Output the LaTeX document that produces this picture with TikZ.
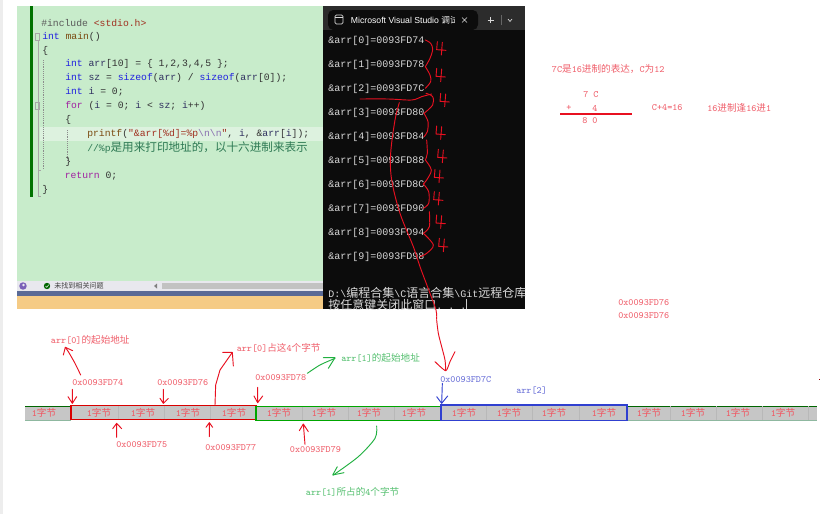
\documentclass[tikz,border=0pt]{standalone}
\usepackage{fontspec}
\setmainfont{Liberation Sans}
\setmonofont{Liberation Mono}
\newfontfamily\cjk{Noto Sans CJK SC}
\newfontfamily\lm{Latin Modern Mono}
\definecolor{bggreen}{HTML}{C8ECCB}
\definecolor{hlgreen}{HTML}{DDF2DF}
\definecolor{barblue}{HTML}{5A6A96}
\definecolor{barorange}{HTML}{F5CB85}
\definecolor{ckw}{HTML}{2020E0}
\definecolor{cstr}{HTML}{A03020}
\definecolor{cfn}{HTML}{7A4A10}
\definecolor{cvar}{HTML}{303060}
\definecolor{cpur}{HTML}{A020A0}
\definecolor{ccom}{HTML}{2F7A55}
\definecolor{cesc}{HTML}{8A70B0}
\definecolor{lred}{HTML}{F0606C}
\definecolor{lgreen}{HTML}{55C070}
\definecolor{lblue}{HTML}{6A70D8}
\definecolor{inkred}{HTML}{E81020}
\definecolor{inkgreen}{HTML}{20B040}
\definecolor{inkblue}{HTML}{3040D0}
\definecolor{termbg}{HTML}{0C0C0C}
\definecolor{titlebg}{HTML}{2C2C2C}
\definecolor{cellgrey}{HTML}{C6C6C6}
\definecolor{barline}{HTML}{8FB8A0}
\definecolor{statusbg}{HTML}{E8E8EE}
\definecolor{iconpurple}{HTML}{7A60B8}
\tikzset{
  codeline/.style={anchor=west,inner sep=0pt,font=\ttfamily\fontsize{7.3}{9}\selectfont,text=black!80},
  termline/.style={anchor=west,inner sep=0pt,font=\ttfamily\fontsize{7.5}{9}\selectfont,text=white!85!black},
  lab/.style={anchor=west,inner sep=0pt,font=\lm\fontsize{7.2}{9}\selectfont,text=lred},
  cell/.style={inner sep=0pt,font=\lm\fontsize{7.2}{9}\selectfont,text=lred!90!red},
  hand/.style={draw=inkred,line width=.7pt,line join=round,line cap=round},
  gink/.style={hand,draw=inkgreen},
  bink/.style={hand,draw=inkblue},
  zoomed/.style={x=.25pt,y=-.25pt},
}
\newcommand\kw[1]{\textcolor{ckw}{#1}}
\begin{document}
\begin{tikzpicture}[x=.75pt,y=-.75pt]
\useasboundingbox (0,0) rectangle (828,514);
\fill[white] (0,0) rectangle (828,514);
\fill[black!7] (0,0) rectangle (3,514);
% editor
\fill[bggreen] (17,6) rectangle (323,281);
\fill[hlgreen] (40,127) rectangle (323,141);
\fill[green!45!black] (30,6) rectangle (33,197);
\fill[statusbg] (17,281) rectangle (323,291);
\fill[barblue] (17,291) rectangle (323,296);
\fill[barorange] (17,296) rectangle (323,309);
\draw[black!45,line width=.4pt,densely dotted] (43.5,60) -- (43.5,170) (67,130) -- (67,160);
\draw[black!35,line width=.4pt] (35,33) rectangle (39.5,40) (35,102) rectangle (39.5,109);
\draw[black!35,line width=.4pt] (38,170) -- (41,170) (38,40) -- (38,196) -- (41,196);
\node[codeline] (l1) at (41,22.7) {\textcolor{black!65}{\#include} \textcolor{cstr}{<stdio.h>}};
\node[codeline] (l2) at (42,36.7) {\kw{int} \textcolor{cfn}{main}()};
\node[codeline] (l3) at (42,50.5) {\{};
\node[codeline] (l4) at (65,64) {\kw{int} \textcolor{cvar}{arr}[10] = \{ 1,2,3,4,5 \};};
\node[codeline] (l5) at (65,78) {\kw{int} \textcolor{cvar}{sz} = \kw{sizeof}(\textcolor{cvar}{arr}) / \kw{sizeof}(\textcolor{cvar}{arr}[0]);};
\node[codeline] (l6) at (65,92) {\kw{int} \textcolor{cvar}{i} = 0;};
\node[codeline] (l7) at (65,106) {\textcolor{cpur}{for} (\textcolor{cvar}{i} = 0; \textcolor{cvar}{i} < \textcolor{cvar}{sz}; \textcolor{cvar}{i}++)};
\node[codeline] (l8) at (65,120) {\{};
\node[codeline] (l9) at (87,134) {\textcolor{cfn}{printf}(\textcolor{cstr}{"\&arr[\%d]=\%p}\textcolor{cesc}{\textbackslash n\textbackslash n}\textcolor{cstr}{"}, \textcolor{cvar}{i}, \&\textcolor{cvar}{arr}[\textcolor{cvar}{i}]);};
\node[codeline,text=ccom] (l10) at (87,148) {//\%p{\cjk\fontsize{8.7}{9}\selectfont 是用来打印地址的，以十六进制来表示}};
\node[codeline] (l11) at (65,162) {\}};
\node[codeline] (l12) at (64.5,176) {\textcolor{cpur}{return} 0;};
\node[codeline] (l13) at (42,190) {\}};
% status bar
\fill[iconpurple] (23,286) circle (2.8pt);
\fill[statusbg] (23.5,285) circle (1pt);
\fill[green!40!black] (47,286) circle (2.4pt);
\draw[white,line width=.4pt] (45.5,286) -- (46.7,287.3) -- (48.7,284.8);
\node[anchor=west,inner sep=0pt,font=\cjk\fontsize{5.3}{6}\selectfont,text=black!75] (status) at (54,286) {未找到相关问题};
\fill[black!50] (157,283.5) -- (157,288.5) -- (154,286) -- cycle;
\fill[black!24] (162,283) rectangle (323,289);
% terminal
\fill[termbg] (323,6) rectangle (525,309);
\fill[titlebg] (323,6) rectangle (525,30);
\fill[termbg,rounded corners=4pt] (328,30) -- (328,10) -- (478,10) -- (478,30) -- cycle;
\draw[white!85!black,line width=.5pt,rounded corners=1pt] (335,15) rectangle (343,24);
\draw[white!85!black,line width=.4pt] (335,17.5) -- (343,17.5);
\begin{scope}
\clip (348,8) rectangle (454,30);
\node[anchor=west,inner sep=0pt,font=\fontsize{6.5}{8}\selectfont,text=white] (tab) at (350.7,20) {Microsoft Visual Studio {\cjk 调试控制台}};
\end{scope}
\draw[white!85!black,line width=.5pt] (462,17.5) -- (467,22.5) (467,17.5) -- (462,22.5);
\draw[white!85!black,line width=.6pt] (487.5,20) -- (494,20) (490.8,16.8) -- (490.8,23.2);
\draw[black!60,line width=.4pt] (501,15) -- (501,25);
\draw[white!85!black,line width=.5pt] (508,19) -- (510,21.5) -- (512,19);
\foreach \n/\a/\yy in {0/74/41,1/78/65,2/7C/89,3/80/113,4/84/137,5/88/161,6/8C/185,7/90/209,8/94/233,9/98/257}
  \node[termline] (t\n) at (328,\yy) {\&arr[\n]=0093FD\a};
\node[termline] (d1) at (328,293) {D:\textbackslash{\cjk\fontsize{9}{9}\selectfont 编程合集}\textbackslash C{\cjk\fontsize{9}{9}\selectfont 语言合集}\textbackslash Git{\cjk\fontsize{9}{9}\selectfont 远程仓库}};
\node[termline] (d2) at (328,305) {{\cjk\fontsize{9}{9}\selectfont 按任意键关闭此窗口}. . .};
\fill[white!80!black] (466,299) rectangle (467,309);
% terminal ink
\begin{scope}[shift={(320,0)},zoomed]
\foreach \p in {
 {(316,120)(332,130)(338,148)(330,175)(316,200)},
 {(316,200)(330,225)(332,245)(316,265)},
 {(318,280)(338,290)(338,315)(312,340)},
 {(312,340)(324,365)(322,395)(312,410)},
 {(320,420)(322,460)(316,480)},
 {(316,480)(334,510)(320,540)(310,552)},
 {(310,552)(326,575)(326,610)(310,625)},
 {(328,635)(328,680)(310,700)},
 {(310,700)(340,735)(320,760)(300,770)},
 {(120,297)(205,297)(275,300)(305,290)(335,282)},
 {(238,308)(225,360)(212,460)(215,540)(240,640)(280,740)(300,800)(330,880)(348,930)(350,958)}}
  \draw[hand] plot[smooth,tension=.55] coordinates \p;
\foreach \x/\y in {352/125,350/205,362/280,350/378,355/448,345/508,343/575,350/645,358/715}
  \draw[hand] (\x,\y) -- ++(-2,24) -- ++(28,2) (\x+15,\y+2) -- ++(-3,38);
\end{scope}
% memory bar
\fill[cellgrey] (25,406) rectangle (817,420);
\draw[green!40!black,line width=.6pt] (25,406) -- (71,406) (627,406) -- (817,406);
\draw[barline,line width=.8pt] (25,420.3) -- (71,420.3) (627,420.3) -- (817,420.3);
\foreach \x in {118,164,210.5,302.7,348,394,486.7,532.7,579,670.7,716.7,762,808}
  \draw[black!28,line width=.4pt] (\x,406) -- (\x,420);
\foreach \i/\x in {a/44,b/99,c/143,d/188,e/234,f/279,g/324,h/369,i/414,j/464,k/509,l/554,m/604,n/649,o/693,p/738,q/783}
  \node[cell] (c\i) at (\x,413) {1{\cjk 字节}};
\draw[draw=red!85!black,line width=1pt] (71,405.5) rectangle (256,419.5);
\draw[draw=green!65!black,line width=1pt] (256,406.5) rectangle (441,420.5);
\draw[draw=inkblue,line width=1.1pt] (441,405) rectangle (627,420.5);
% labels
\node[lab] (a0s) at (50.7,340) {arr[0]{\cjk 的起始地址}};
\node[lab] (a74) at (72,383) {0x0093FD74};
\node[lab] (a76) at (157,383) {0x0093FD76};
\node[lab] (a0o) at (236.5,347.5) {arr[0]{\cjk 占这}4{\cjk 个字节}};
\node[lab] (a78) at (255,377.5) {0x0093FD78};
\node[lab] (a75) at (116,445) {0x0093FD75};
\node[lab] (a77) at (205,447.5) {0x0093FD77};
\node[lab] (a79) at (289.7,450) {0x0093FD79};
\node[lab,text=lgreen] (a1s) at (341,357.5) {arr[1]{\cjk 的起始地址}};
\node[lab,text=lblue] (a7c) at (440,380) {0x0093FD7C};
\node[lab,text=lblue] (a2) at (516,391) {arr[2]};
\node[lab,text=lgreen] (a1o) at (305.7,491.5) {arr[1]{\cjk 所占的}4{\cjk 个字节}};
\node[lab] (n1) at (551.7,69) {7C{\cjk 是}16{\cjk 进制的表达，}C{\cjk 为}12};
\node[lab] (n7) at (583,95) {7};
\node[lab] (nC) at (593,95) {C};
\node[lab] (npl) at (566,108) {+};
\node[lab] (n4) at (592,108) {4};
\node[lab] (n8) at (582,121) {8};
\node[lab] (n0) at (592,121) {0};
\node[lab] (n2) at (651.7,108) {C+4=16};
\node[lab] (n3) at (707,108) {16{\cjk 进制逢}16{\cjk 进}1};
\node[lab] (x1) at (618,302.5) {0x0093FD76};
\node[lab] (x2) at (618,315.5) {0x0093FD76};
\draw[inkred,line width=1.8pt] (560,114) -- (632,114);
\fill[red!60!black] (819,379) rectangle (820,380);
% hand arrows, left
\begin{scope}[shift={(0,320)},zoomed]
\draw[hand] plot[smooth,tension=.5] coordinates {(242,165)(225,130)(205,95)(196,82)};
\draw[hand] (190,105) -- (196,82) -- (218,92);
\draw[hand] (217,208) -- (217,250) (204,230) -- (217,250) -- (230,230);
\draw[hand] (490,208) -- (490,250) (480,235) -- (490,250) -- (505,235);
\draw[hand] (773,202) -- (773,248) (762,228) -- (773,248) -- (788,228);
\draw[hand] (350,352) -- (350,310) (338,326) -- (350,310) -- (365,326);
\draw[hand] (628,350) -- (628,308) (618,322) -- (628,308) -- (638,322);
\draw[hand] (645,255) -- (647,195) -- (660,150) -- (695,100) (668,97) -- (697,97) -- (700,138);
\end{scope}
\begin{scope}[shift={(280,320)},zoomed]
\draw[hand] plot[smooth,tension=.5] coordinates {(470,0)(475,40)(485,80)(495,120)(497,150)};
\draw[hand] plot[smooth,tension=.4] coordinates {(465,125)(497,152)(510,125)(525,95)};
\draw[gink] plot[smooth,tension=.5] coordinates {(82,160)(120,135)(165,115)};
\draw[gink] (130,113) -- (165,113) -- (145,145);
\draw[gink] plot[smooth,tension=.5] coordinates {(290,318)(285,355)(235,410)(160,465)};
\draw[gink] (172,440) -- (158,465) -- (192,458);
\draw[hand] (75,373) -- (70,312) (58,332) -- (70,312) -- (85,335);
\draw[bink] (487,190) -- (485,250) (470,230) -- (485,250) -- (503,228);
\end{scope}
\end{tikzpicture}
\end{document}
